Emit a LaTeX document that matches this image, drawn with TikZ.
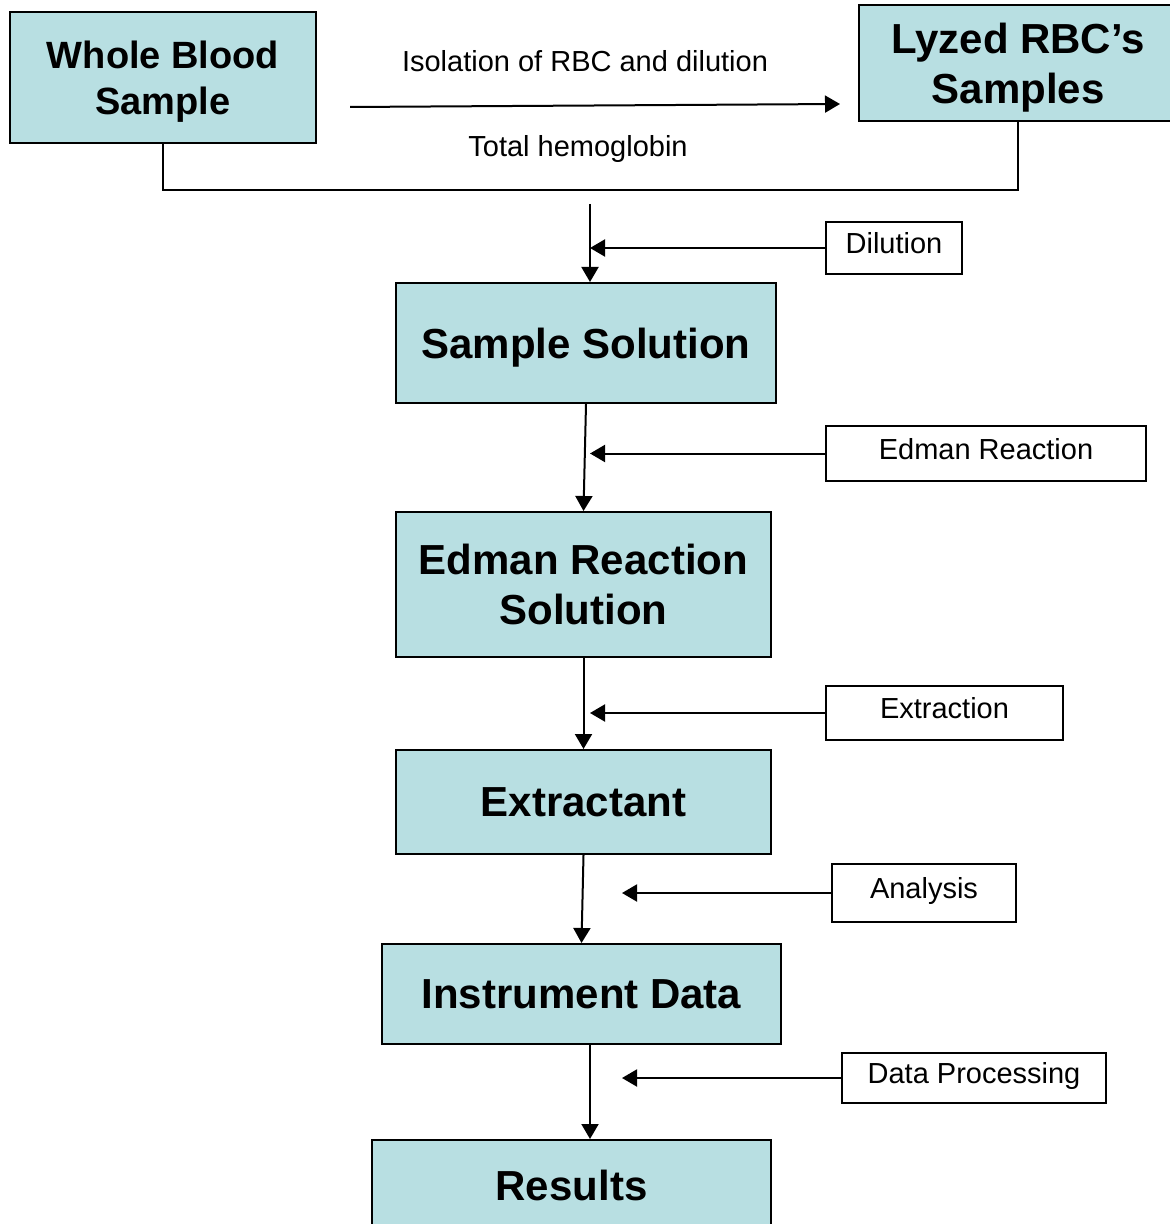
\documentclass[tikz,border=0pt]{standalone}
\usepackage{fontspec}
\setmainfont{Liberation Sans}
\usetikzlibrary{arrows.meta}
\definecolor{stageblue}{RGB}{184,223,226}

\begin{document}
\begin{tikzpicture}[x=0.5pt,y=-0.5pt,
		stage/.style={rectangle, draw, line width=1pt, fill=stageblue, inner sep=0pt, align=center, text depth=0pt, font=\fontsize{21}{25}\selectfont\bfseries},
		opbox/.style={rectangle, draw, line width=0.6pt, inner sep=0pt, text height=10.5pt, text depth=5pt, font=\fontsize{14.5}{17}\selectfont},
		note/.style={inner sep=0pt, font=\fontsize{14.5}{17}\selectfont},
		flow/.style={->, line width=1pt, >={Triangle[length=7.5pt,width=8.5pt]}}]
		\useasboundingbox (0,0) rectangle (1170,1224);
		% sample preparation
		\node[stage, minimum width=153pt, minimum height=65.5pt, font=\fontsize{19}{23}\selectfont\bfseries] (wb) at (163,77.5) {Whole Blood\\Sample};
		\node[stage, minimum width=159pt, minimum height=58pt] (lyz) at (1018,63) {Lyzed RBC's\\Samples};
		\node[note] (iso) at (585,61) {Isolation of RBC and dilution};
		\node[note] (thb) at (578,149) {Total hemoglobin};
		\coordinate (isostart) at (350,107);
		\coordinate (isoend) at (840,104);
		\coordinate (merge) at (590,190);
		\coordinate (split) at (590,204);

		\draw[flow] (isostart) -- (isoend);
		\draw[line width=1pt] (wb.south) |- (merge) -| (lyz.south);

		% main flow
		\node[stage, minimum width=190pt, minimum height=60pt] (ss) at (586,343) {Sample Solution};
		\node[stage, minimum width=187.5pt, minimum height=72.5pt] (ers) at (583.5,584.5) {Edman Reaction\\Solution};
		\node[stage, minimum width=187.5pt, minimum height=52pt] (ext) at (583.5,802) {Extractant};
		\node[stage, minimum width=199.5pt, minimum height=50pt] (inst) at (581.5,994) {Instrument Data};
		\node[stage, minimum width=199.5pt, minimum height=45pt] (res) at (571.5,1185) {Results};

		% operations
		\node[opbox, minimum width=68pt, minimum height=26pt] (dil) at (894,248) {Dilution};
		\node[opbox, minimum width=160pt, minimum height=27.5pt] (edr) at (986,453.5) {Edman Reaction};
		\node[opbox, minimum width=118.5pt, minimum height=27pt] (extr) at (944.5,713) {Extraction};
		\node[opbox, minimum width=92pt, minimum height=29pt] (ana) at (924,893) {Analysis};
		\node[opbox, minimum width=132pt, minimum height=25pt] (dp) at (974,1078) {Data Processing};

		\draw[flow] (split) -- (split |- ss.north);
		\draw[flow] (ss.south) -- (ers.north);
		\draw[flow] (ers.south) -- (ext.north);
		\draw[flow] (ext.south) -- (inst.north);
		\draw[flow] ([xshift=4.25pt]inst.south) -- ([xshift=9.25pt]res.north);

		\draw[flow] (dil.west) -- (dil.west -| split);
		\draw[flow] (edr.west) -- (edr.west -| split);
		\draw[flow] (extr.west) -- (extr.west -| split);
		\draw[flow] (ana.west) -- ([xshift=20.25pt]ana.west -| inst.north);
		\draw[flow] (dp.west) -- ([xshift=20.25pt]dp.west -| inst.north);
\end{tikzpicture}
\end{document}
